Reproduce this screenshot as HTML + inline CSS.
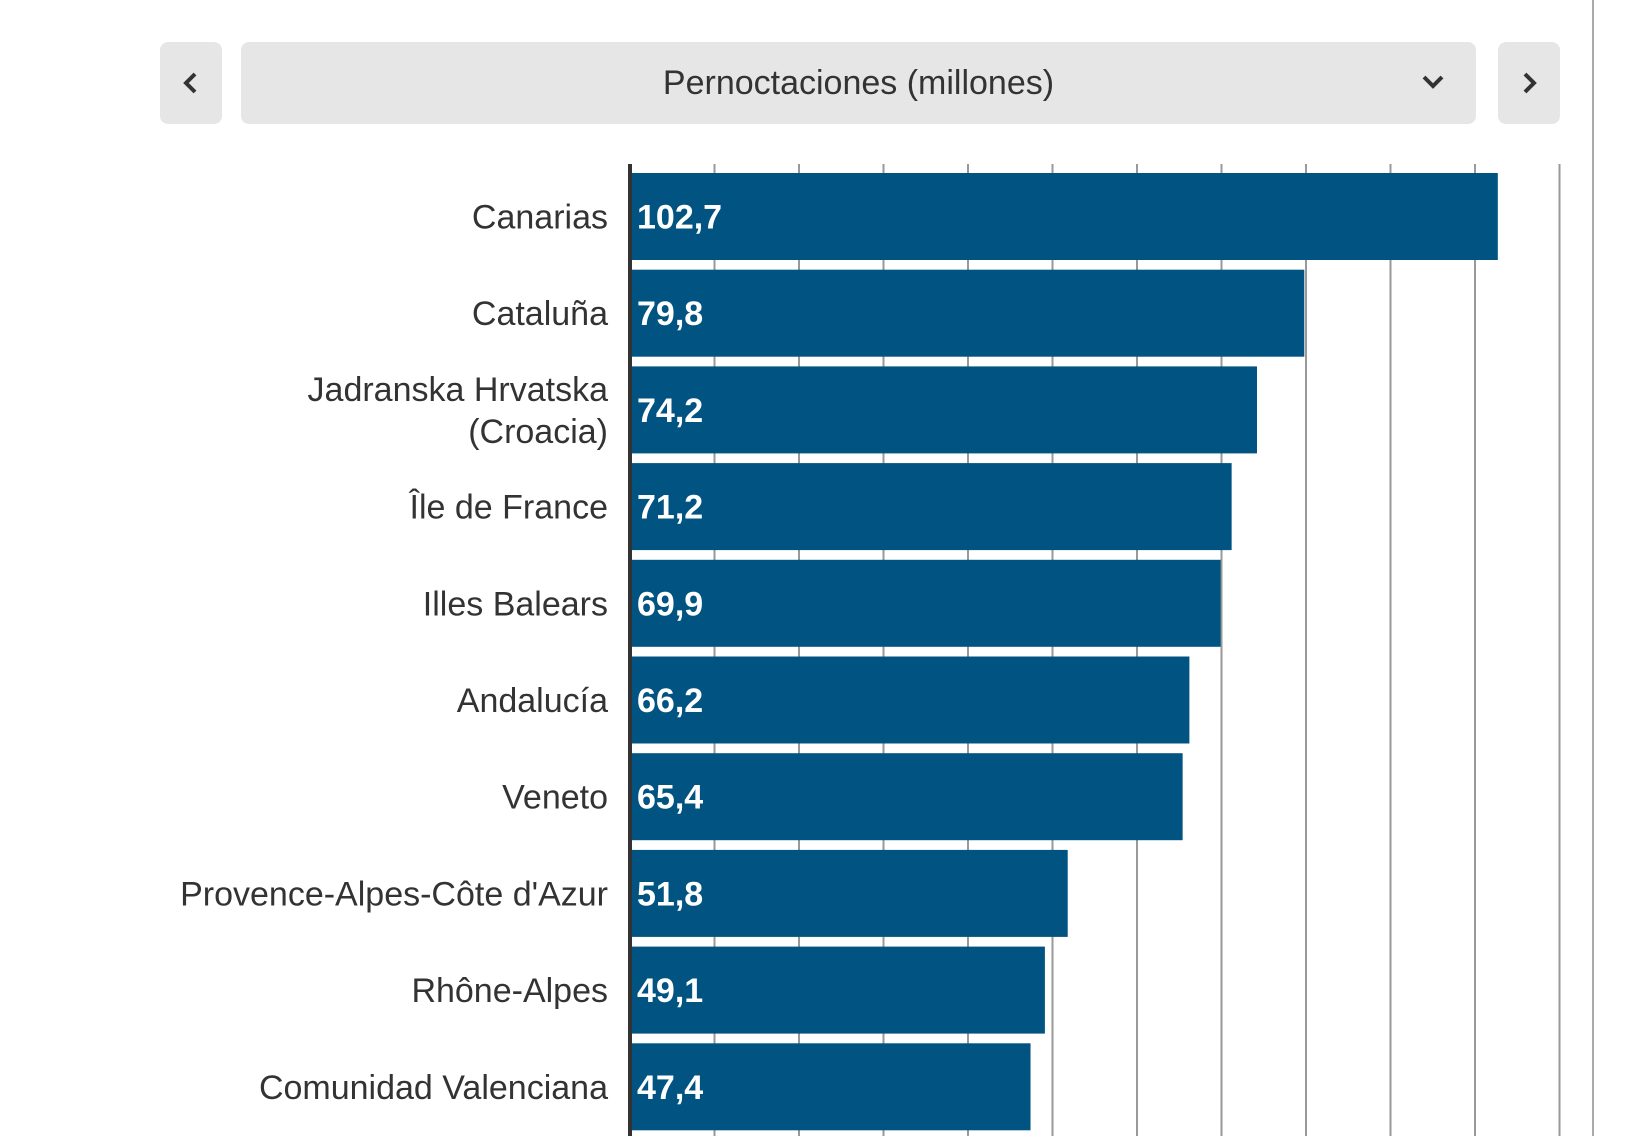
<!DOCTYPE html>
<html><head><meta charset="utf-8"><style>
body{margin:0;width:1632px;height:1136px;background:#fff;overflow:hidden;font-family:"Liberation Sans",sans-serif;}
.btn{position:absolute;top:42px;height:82px;background:#e6e6e6;border-radius:8px;}
</style></head><body>
<div class="btn" style="left:160px;width:62px;"><svg width="62" height="82"><path d="M35 32 L26 41 L35 50" stroke="#333" stroke-width="4" fill="none"/></svg></div>
<div class="btn" style="left:241px;width:1235px;">
<div style="position:absolute;left:0;right:0;top:0;line-height:82px;text-align:center;font-size:34px;color:#333;">Pernoctaciones (millones)</div>
<svg style="position:absolute;left:1180px;top:28px" width="24" height="24"><path d="M3 7 L12 16 L21 7" stroke="#333" stroke-width="4" fill="none"/></svg></div>
<div class="btn" style="left:1498px;width:62px;"><svg width="62" height="82"><path d="M27 32 L36 41 L27 50" stroke="#333" stroke-width="4" fill="none"/></svg></div>
<div style="position:absolute;left:1592px;top:0;width:2px;height:1136px;background:#aaa"></div>
<svg id="chart" width="1632" height="1136" style="position:absolute;left:0;top:0"></svg>
<script>
const categories=[["Canarias"],["Cataluña"],["Jadranska Hrvatska","(Croacia)"],["Île de France"],["Illes Balears"],["Andalucía"],["Veneto"],["Provence-Alpes-Côte d'Azur"],["Rhône-Alpes"],["Comunidad Valenciana"]];
const values=[102.7,79.8,74.2,71.2,69.9,66.2,65.4,51.8,49.1,47.4];
const ticks=[0,10,20,30,40,50,60,70,80,90,100,110];
const svg=document.getElementById('chart');const NS='http://www.w3.org/2000/svg';
const x0=630,pxPer=8.45,top0=173,pitch=96.7,bh=87;
const x=v=>x0+v*pxPer;const y=i=>top0+i*pitch;
function mk(t,a){const e=document.createElementNS(NS,t);for(const k in a)e.setAttribute(k,a[k]);svg.appendChild(e);return e;}
ticks.forEach(t=>{if(t===0)return;const l=mk('line',{x1:x(t),x2:x(t),y1:164,y2:1136,stroke:'#999','stroke-width':2});

});
values.forEach((v,i)=>{
const r=mk('rect',{x:x0,y:y(i),width:x(v)-x0,height:bh,fill:'#015482'});


const t=mk('text',{x:x0+7,y:y(i)+bh/2+12,fill:'#fff','font-size':34,'font-weight':'bold'});
t.textContent=v.toFixed(1).replace('.',',');


const lines=categories[i];
lines.forEach((s,j)=>{const c=mk('text',{x:608,y:y(i)+bh/2+12+(j-(lines.length-1)/2)*42,fill:'#333','font-size':34,'text-anchor':'end'});
c.textContent=s;

});
});
const ax=mk('line',{x1:x0,x2:x0,y1:164,y2:1136,stroke:'#333','stroke-width':4});


</script>
</body></html>
